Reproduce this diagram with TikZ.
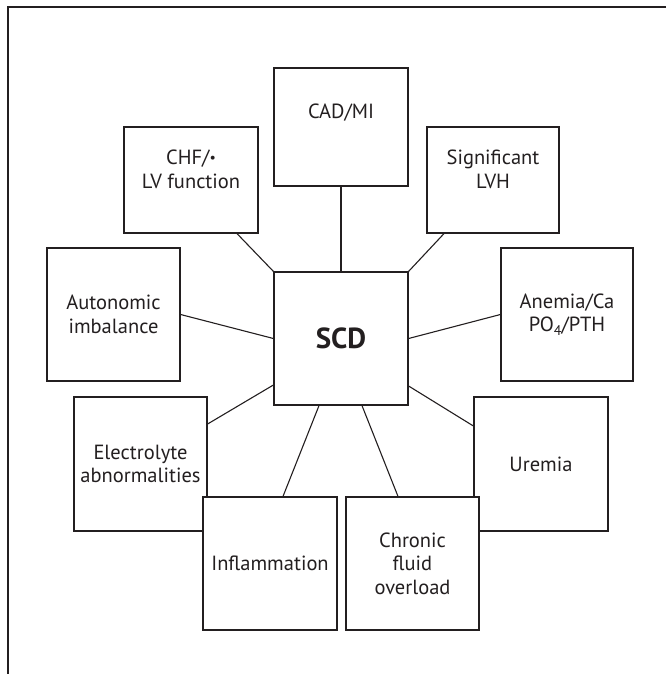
\documentclass[tikz,border=0pt]{standalone}
\usepackage{fontspec}
\setmainfont{PT Sans}
\usetikzlibrary{calc}
\definecolor{ink}{HTML}{231F20}
\begin{document}
\begin{tikzpicture}[x=1pt,y=-1pt,
  box/.style={draw=ink,line width=1.2pt,fill=white,rectangle,inner sep=0pt,
    align=center,text=ink,font=\fontsize{20.5}{23.5}\selectfont},
  link/.style={draw=ink,line width=1.1pt},
  frameline/.style={draw=ink,line width=1.1pt}]
\useasboundingbox (0,0) rectangle (666,674);
\coordinate (ftl) at (8,7);
\coordinate (ftr) at (666,7);
\coordinate (fbl) at (8,674);
\draw[frameline] (ftr) -- (ftl) -- (fbl);

\node[box,minimum width=134pt,minimum height=118pt] (cad) at (341,127) {CAD/MI\\[8pt]};
\node[box,minimum width=134pt,minimum height=106pt] (chf) at (191,180) {CHF/{\fontsize{14}{14}\selectfont\raisebox{0.35ex}{•}}\\LV function\\[-2pt]\mbox{}};
\node[box,minimum width=132pt,minimum height=106pt] (lvh) at (493,180) {Significant\\LVH\\[-2pt]\mbox{}};
\node[box,minimum width=133pt,minimum height=133pt] (aut) at (113.5,314.5) {Autonomic\\imbalance};
\node[box,minimum width=132pt,minimum height=133pt] (ane) at (567,314.5) {Anemia/Ca\\PO{\raisebox{-0.35ex}{\fontsize{14}{14}\selectfont 4}}/PTH};
\node[box,minimum width=133pt,minimum height=134pt] (ele) at (140.5,464) {Electrolyte\\abnormalities};
\node[box,minimum width=134pt,minimum height=134pt] (ure) at (541,464) {Uremia};
\node[box,minimum width=134pt,minimum height=133pt] (inf) at (270,563.5) {Inflammation};
\node[box,minimum width=133pt,minimum height=133pt] (chr) at (412.5,563.5) {Chronic\\fluid\\overload};
\node[box,minimum width=134pt,minimum height=133pt,font=\fontsize{29}{33}\selectfont\bfseries] (scd) at (341,338.5) {SCD};

\draw[link] (cad.south) -- (scd.north);
\draw[link] ($(chf.south)+(46,0)$) -- (scd.north west);
\draw[link] ($(lvh.south)+(-49,0)$) -- (scd.north east);
\draw[link] (aut.east) -- (scd.west);
\draw[link] ($(ele.east)+(0,-40)$) -- ($(scd.west)+(0,46.5)$);
\draw[link] (ane.west) -- (scd.east);
\draw[link] ($(ure.west)+(0,-38)$) -- ($(scd.east)+(0,47.5)$);
\draw[link] ($(inf.north)+(13,0)$) -- ($(scd.south)+(-22,0)$);
\draw[link] ($(chr.north)+(-14.5,0)$) -- ($(scd.south)+(21,0)$);
\end{tikzpicture}
\end{document}
